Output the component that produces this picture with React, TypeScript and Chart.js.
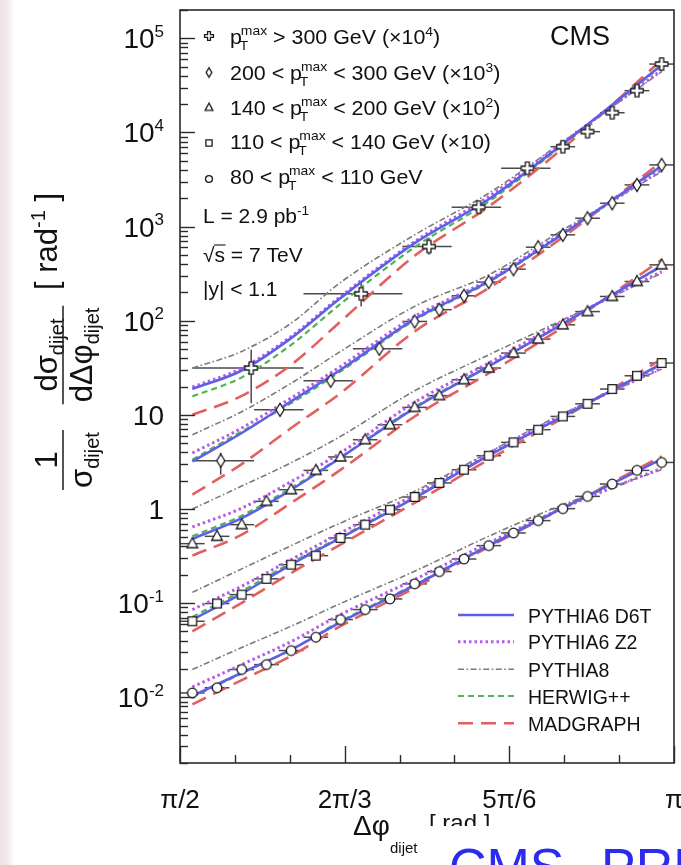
import React, { useEffect, useRef } from "react";
import { Chart, registerables } from "chart.js";

Chart.register(...registerables);

const PI = Math.PI;
const Y_MIN = 0.002;
const Y_MAX = 200000;

// ---- Δφ binning (rad) ----
const FINE_X = [1.6101, 1.6886, 1.7671, 1.8457, 1.9242, 2.0028, 2.0813, 2.1598, 2.2384, 2.3169, 2.3955, 2.474, 2.5525, 2.6311, 2.7096, 2.7882, 2.8667, 2.9452, 3.0238, 3.1023];
const FINE_LO = [1.5708, 1.6493, 1.7279, 1.8064, 1.885, 1.9635, 2.042, 2.1206, 2.1991, 2.2777, 2.3562, 2.4347, 2.5133, 2.5918, 2.6704, 2.7489, 2.8274, 2.906, 2.9845, 3.0631];
const FINE_HI = [1.6493, 1.7279, 1.8064, 1.885, 1.9635, 2.042, 2.1206, 2.1991, 2.2777, 2.3562, 2.4347, 2.5133, 2.5918, 2.6704, 2.7489, 2.8274, 2.906, 2.9845, 3.0631, 3.1416];

// ---- measured data ----
const CIRCLE_Y = [0.0111, 0.0126, 0.0197, 0.0222, 0.0313, 0.0434, 0.0668, 0.0853, 0.1107, 0.16, 0.216, 0.294, 0.408, 0.556, 0.752, 1.007, 1.36, 1.84, 2.57, 3.12];
const SQUARE_Y = [0.0641, 0.0989, 0.123, 0.181, 0.256, 0.319, 0.492, 0.681, 0.982, 1.34, 1.89, 2.61, 3.68, 5.1, 6.95, 9.62, 13.1, 18.8, 26.0, 35.5];
const TRIANGLE_Y = [0.428, 0.512, 0.681, 1.205, 1.6, 2.57, 3.57, 5.44, 7.85, 12.0, 16.0, 23.6, 31.4, 45.3, 63.8, 90.4, 125, 181, 261, 392];

const DIAMOND_X = [1.7002, 1.8888, 2.0499, 2.2046, 2.3169, 2.3955, 2.474, 2.5525, 2.6311, 2.7096, 2.7882, 2.8667, 2.9452, 3.0238, 3.1023];
const DIAMOND_LO = [1.6101, 1.8064, 1.9635, 2.1206, 2.2777, 2.3562, 2.4347, 2.5133, 2.5918, 2.6704, 2.7489, 2.8274, 2.906, 2.9845, 3.0631];
const DIAMOND_HI = [1.8064, 1.9635, 2.1206, 2.2777, 2.3562, 2.4347, 2.5133, 2.5918, 2.6704, 2.7489, 2.8274, 2.906, 2.9845, 3.0631, 3.1416];
const DIAMOND_Y = [3.26, 11.3, 23.0, 50.3, 98.2, 131, 184, 257, 353, 604, 817, 1227, 1772, 2773, 4520];
const DIAMOND_YLO = [2.31, 9.8, 23.0, 50.3, 98.2, 131, 184, 257, 353, 604, 817, 1227, 1772, 2773, 4520];
const DIAMOND_YHI = [3.95, 12.9, 23.0, 50.3, 98.2, 131, 184, 257, 353, 604, 817, 1227, 1772, 2773, 4520];

const CROSS_X = [1.7972, 2.1468, 2.3625, 2.5204, 2.6752, 2.7882, 2.8667, 2.9452, 3.0238, 3.1023];
const CROSS_LO = [1.6101, 1.9635, 2.2777, 2.4347, 2.5918, 2.7489, 2.8274, 2.906, 2.9845, 3.0631];
const CROSS_HI = [1.9635, 2.2777, 2.4347, 2.5918, 2.7489, 2.8274, 2.906, 2.9845, 3.0631, 3.1416];
const CROSS_Y = [31.4, 193, 614, 1608, 4170, 7060, 10200, 16200, 27800, 53300];
const CROSS_YLO = [13.3, 141.6, 501, 1480, 3950, 7060, 10200, 16200, 27800, 53300];
const CROSS_YHI = [49.1, 252, 759, 1750, 4400, 7060, 10200, 16200, 27800, 53300];

// ---- model curves (sampled at MODEL_X) ----
const MODEL_X = [1.6101, 1.7671, 1.9242, 2.0813, 2.3169, 2.5525, 2.7882, 3.1023];

const D6T_80 = [0.0103, 0.0182, 0.032, 0.0626, 0.154, 0.408, 1.02, 3.39];
const Z2_80 = [0.0129, 0.0222, 0.039, 0.0755, 0.178, 0.436, 1.02, 2.72];
const P8_80 = [0.0197, 0.0337, 0.0568, 0.0989, 0.218, 0.513, 1.11, 2.61];
const HW_80 = [0.0101, 0.0179, 0.032, 0.0641, 0.157, 0.415, 1.04, 3.39];
const MG_80 = [0.0084, 0.0152, 0.0275, 0.0568, 0.145, 0.395, 1.02, 3.62];

const D6T_110 = [0.0668, 0.126, 0.256, 0.492, 1.31, 3.68, 9.62, 34.9];
const Z2_110 = [0.0853, 0.151, 0.29, 0.556, 1.42, 3.9, 10.0, 31.4];
const P8_110 = [0.13, 0.231, 0.408, 0.71, 1.54, 4.0, 10.3, 30.6];
const HW_110 = [0.0713, 0.134, 0.267, 0.504, 1.34, 3.74, 9.62, 34.1];
const MG_110 = [0.0502, 0.1005, 0.209, 0.418, 1.16, 3.34, 9.24, 39.1];

const D6T_140 = [0.48, 0.8, 1.6, 3.5, 11.8, 32.7, 92.7, 383];
const Z2_140 = [0.644, 1.02, 1.95, 3.95, 13.6, 35.5, 98.2, 333];
const P8_140 = [1.0, 1.75, 3.1, 5.9, 18.0, 43.4, 102, 320];
const HW_140 = [0.513, 0.849, 1.67, 3.55, 12.1, 33.2, 92.7, 377];
const MG_140 = [0.319, 0.533, 1.16, 2.6, 9.6, 27.7, 85.5, 443];

const D6T_200 = [3.2, 6.41, 13.9, 30.1, 104, 261, 837, 4408];
const Z2_200 = [3.93, 7.24, 15.1, 32.7, 111, 272, 865, 4000];
const P8_200 = [6.15, 10.8, 21.7, 47.2, 142, 307, 922, 3837];
const HW_200 = [3.34, 6.67, 13.3, 28.9, 101, 257, 830, 4339];
const MG_200 = [1.42, 3.0, 7.24, 17.0, 76.9, 222, 771, 4898];

const D6T_300 = [18.8, 29.6, 65.3, 174, 666, 1952, 7551, 52080];
const Z2_300 = [19.7, 31.4, 68.0, 181, 693, 2084, 7793, 46080];
const P8_300 = [31.4, 47.2, 94.2, 255, 816, 2261, 7985, 44200];
const HW_300 = [15.7, 25.0, 55.5, 151, 604, 1844, 7369, 51190];
const MG_300 = [10.0, 15.9, 34.0, 98.1, 489, 1632, 6797, 58840];

// ---- axis ticks ----
const Y_TICK_EXP = [-2, -1, 0, 1, 2, 3, 4, 5];
const X_MAJOR = [PI / 2, (2 * PI) / 3, (5 * PI) / 6, PI];
const X_MAJOR_LABELS = ["π/2", "2π/3", "5π/6", "π"];
const X_MINOR = [1.7453, 1.9199, 2.2689, 2.4435, 2.7925, 2.9671];

const MODEL_NAMES = ["PYTHIA6 D6T", "PYTHIA6 Z2", "PYTHIA8", "HERWIG++", "MADGRAPH"];
const MODEL_STYLE = [
  { color: "#5f5fe8", width: 2.6, dash: [] as number[] },
  { color: "#b65ae8", width: 3, dash: [2.5, 3] },
  { color: "#7a7a7a", width: 1.6, dash: [6, 2.5, 1.6, 2.5] },
  { color: "#4fb552", width: 2.2, dash: [6, 4] },
  { color: "#e2605e", width: 2.6, dash: [15, 8] },
];

const FONT = '"Liberation Sans", Arial, Helvetica, sans-serif';
const setFont = (ctx: any, size: number, bold = false) => {
  ctx.font = `${bold ? "bold " : ""}${size}px ${FONT}`;
};

function runsWidth(ctx: any, runs: any[]) {
  let w = 0;
  for (const r of runs) {
    if (r.stack) {
      let m = 0;
      for (const s of r.stack) {
        setFont(ctx, s.size);
        m = Math.max(m, ctx.measureText(s.t).width + (s.dx || 0));
      }
      w += m;
    } else {
      setFont(ctx, r.size);
      w += ctx.measureText(r.t).width + (r.dx || 0);
    }
  }
  return w;
}

function drawRuns(ctx: any, runs: any[], x: number, y: number) {
  let cx = x;
  for (const r of runs) {
    if (r.stack) {
      let m = 0;
      for (const s of r.stack) {
        setFont(ctx, s.size);
        ctx.fillText(s.t, cx + (s.dx || 0), y + (s.dy || 0));
        m = Math.max(m, ctx.measureText(s.t).width + (s.dx || 0));
      }
      cx += m;
    } else {
      setFont(ctx, r.size);
      ctx.fillText(r.t, cx + (r.dx || 0), y + (r.dy || 0));
      cx += ctx.measureText(r.t).width + (r.dx || 0);
    }
  }
  return cx;
}

function makeMarker(kind: string, scale: number) {
  const S = Math.round(20 * scale);
  const c = document.createElement("canvas");
  c.width = S;
  c.height = S;
  const g = c.getContext("2d") as CanvasRenderingContext2D;
  g.translate(S / 2, S / 2);
  g.scale(scale, scale);
  g.beginPath();
  if (kind === "circle") g.arc(0, 0, 4.8, 0, 2 * PI);
  else if (kind === "square") g.rect(-4.3, -4.3, 8.6, 8.6);
  else if (kind === "triangle") {
    g.moveTo(0, -6);
    g.lineTo(5.4, 4);
    g.lineTo(-5.4, 4);
    g.closePath();
  } else if (kind === "diamond") {
    g.moveTo(0, -6.5);
    g.lineTo(4, 0);
    g.lineTo(0, 6.5);
    g.lineTo(-4, 0);
    g.closePath();
  } else {
    const a = 2,
      L = 6.2;
    const pts = [[-a, -L], [a, -L], [a, -a], [L, -a], [L, a], [a, a], [a, L], [-a, L], [-a, a], [-L, a], [-L, -a], [-a, -a]];
    g.moveTo(pts[0][0], pts[0][1]);
    for (const p of pts.slice(1)) g.lineTo(p[0], p[1]);
    g.closePath();
  }
  g.fillStyle = "#ffffff";
  g.fill();
  g.lineWidth = 1.3 / scale;
  g.strokeStyle = "#1a1a1a";
  g.stroke();
  return c;
}

export default function App() {
  const ref = useRef<HTMLCanvasElement>(null);

  useEffect(() => {
    const canvas = ref.current as HTMLCanvasElement;
    const kinds = ["cross", "diamond", "triangle", "square", "circle"];
    const mk: any = {};
    const mkSmall: any = {};
    for (const k of kinds) {
      mk[k] = makeMarker(k, 1);
      mkSmall[k] = makeMarker(k, 0.72);
    }

    const series = [
      { kind: "cross", x: CROSS_X, y: CROSS_Y, lo: CROSS_LO, hi: CROSS_HI, ylo: CROSS_YLO, yhi: CROSS_YHI, models: [D6T_300, Z2_300, P8_300, HW_300, MG_300] },
      { kind: "diamond", x: DIAMOND_X, y: DIAMOND_Y, lo: DIAMOND_LO, hi: DIAMOND_HI, ylo: DIAMOND_YLO, yhi: DIAMOND_YHI, models: [D6T_200, Z2_200, P8_200, HW_200, MG_200] },
      { kind: "triangle", x: FINE_X, y: TRIANGLE_Y, lo: FINE_LO, hi: FINE_HI, ylo: TRIANGLE_Y, yhi: TRIANGLE_Y, models: [D6T_140, Z2_140, P8_140, HW_140, MG_140] },
      { kind: "square", x: FINE_X, y: SQUARE_Y, lo: FINE_LO, hi: FINE_HI, ylo: SQUARE_Y, yhi: SQUARE_Y, models: [D6T_110, Z2_110, P8_110, HW_110, MG_110] },
      { kind: "circle", x: FINE_X, y: CIRCLE_Y, lo: FINE_LO, hi: FINE_HI, ylo: CIRCLE_Y, yhi: CIRCLE_Y, models: [D6T_80, Z2_80, P8_80, HW_80, MG_80] },
    ];

    const datasets: any[] = [];
    for (const s of series) {
      datasets.push({
        type: "scatter",
        data: s.x.map((x, i) => ({ x, y: s.y[i] })),
        pointStyle: mk[s.kind],
        pointRadius: 6,
        order: 0,
      });
      for (const m of [4, 3, 2, 1, 0]) {
        const st = MODEL_STYLE[m];
        datasets.push({
          type: "line",
          data: MODEL_X.map((x, i) => ({ x, y: s.models[m][i] })),
          borderColor: st.color,
          borderWidth: st.width,
          borderDash: st.dash,
          pointRadius: 0,
          fill: false,
          cubicInterpolationMode: "monotone",
          order: 1 + m * 0.01,
        });
      }
    }

    const bgPlugin = {
      id: "bg",
      beforeDraw(chart: any) {
        const ctx = chart.ctx;
        ctx.save();
        ctx.fillStyle = "#ffffff";
        ctx.fillRect(0, 0, chart.width, chart.height);
        const g = ctx.createLinearGradient(0, 0, 14, 0);
        g.addColorStop(0, "#eee2e5");
        g.addColorStop(0.7, "#f6eef0");
        g.addColorStop(1, "#ffffff");
        ctx.fillStyle = g;
        ctx.fillRect(0, 0, 14, chart.height);
        ctx.restore();
      },
    };

    const errPlugin = {
      id: "errbars",
      beforeDatasetsDraw(chart: any) {
        const ctx = chart.ctx;
        const a = chart.chartArea;
        const xs = chart.scales.x;
        const ys = chart.scales.y;
        ctx.save();
        ctx.beginPath();
        ctx.rect(a.left, a.top, a.right - a.left, a.bottom - a.top);
        ctx.clip();
        ctx.strokeStyle = "#4a4a4a";
        ctx.lineWidth = 1.5;
        for (const s of series) {
          for (let i = 0; i < s.x.length; i++) {
            const py = ys.getPixelForValue(s.y[i]);
            ctx.beginPath();
            ctx.moveTo(xs.getPixelForValue(s.lo[i]), py);
            ctx.lineTo(xs.getPixelForValue(s.hi[i]), py);
            ctx.stroke();
            if (s.yhi[i] > s.ylo[i]) {
              const px = xs.getPixelForValue(s.x[i]);
              ctx.beginPath();
              ctx.moveTo(px, ys.getPixelForValue(s.ylo[i]));
              ctx.lineTo(px, ys.getPixelForValue(s.yhi[i]));
              ctx.stroke();
            }
          }
        }
        ctx.restore();
      },
    };

    const decoPlugin = {
      id: "deco",
      afterDraw(chart: any) {
        const ctx = chart.ctx;
        const a = chart.chartArea;
        const xs = chart.scales.x;
        const ys = chart.scales.y;
        ctx.save();
        // frame
        ctx.strokeStyle = "#2a2a2a";
        ctx.lineWidth = 1.6;
        ctx.strokeRect(a.left, a.top, a.right - a.left, a.bottom - a.top);
        // y ticks
        ctx.lineWidth = 1.4;
        for (let e = -3; e <= 5; e++) {
          for (let m = 1; m <= 9; m++) {
            const v = m * Math.pow(10, e);
            if (v < Y_MIN * 0.999 || v > Y_MAX * 1.001) continue;
            const py = Math.round(ys.getPixelForValue(v)) + 0.5;
            const len = m === 1 ? 15 : 8;
            ctx.beginPath();
            ctx.moveTo(a.left, py);
            ctx.lineTo(a.left + len, py);
            ctx.stroke();
          }
        }
        // x ticks
        for (const v of X_MAJOR) {
          const px = Math.round(xs.getPixelForValue(v)) + 0.5;
          ctx.beginPath();
          ctx.moveTo(px, a.bottom);
          ctx.lineTo(px, a.bottom - 17);
          ctx.stroke();
        }
        for (const v of X_MINOR) {
          const px = Math.round(xs.getPixelForValue(v)) + 0.5;
          ctx.beginPath();
          ctx.moveTo(px, a.bottom);
          ctx.lineTo(px, a.bottom - 8);
          ctx.stroke();
        }

        ctx.fillStyle = "#111111";
        ctx.textBaseline = "alphabetic";
        // y tick labels
        for (const e of Y_TICK_EXP) {
          const py = ys.getPixelForValue(Math.pow(10, e));
          let runs: any[];
          if (e === 0) runs = [{ t: "1", size: 28 }];
          else if (e === 1) runs = [{ t: "10", size: 28 }];
          else runs = [{ t: "10", size: 28 }, { t: String(e), size: 17, dy: -11.5 }];
          const w = runsWidth(ctx, runs);
          drawRuns(ctx, runs, 164 - w, py + 10);
        }
        // x tick labels
        ctx.textAlign = "center";
        setFont(ctx, 26);
        X_MAJOR.forEach((v, i) => {
          ctx.fillText(X_MAJOR_LABELS[i], xs.getPixelForValue(v), 808);
        });
        ctx.textAlign = "left";

        // x title
        drawRuns(ctx, [{ t: "Δφ", size: 28 }], 353, 835);
        drawRuns(ctx, [{ t: "dijet", size: 15 }], 390, 853);
        drawRuns(ctx, [{ t: "[ rad ]", size: 24 }], 429, 831);

        // y title (rotated)
        ctx.save();
        ctx.translate(63, 0);
        ctx.rotate(-PI / 2);
        const F = 31;
        const FS = 20;
        const frac = (num: any[], den: any[], center: number) => {
          const wn = runsWidth(ctx, num);
          const wd = runsWidth(ctx, den);
          const w = Math.max(wn, wd) + 4;
          drawRuns(ctx, num, -center - wn / 2, -6);
          drawRuns(ctx, den, -center - wd / 2, 29);
          ctx.lineWidth = 1.6;
          ctx.beginPath();
          ctx.moveTo(-center - w / 2, 0);
          ctx.lineTo(-center + w / 2, 0);
          ctx.stroke();
        };
        frac([{ t: "1", size: F }], [{ t: "σ", size: F }, { t: "dijet", size: FS, dy: 7 }], 460);
        frac(
          [{ t: "dσ", size: F }, { t: "dijet", size: FS, dy: 7 }],
          [{ t: "dΔφ", size: F }, { t: "dijet", size: FS, dy: 7 }],
          355
        );
        drawRuns(ctx, [{ t: "[ rad", size: F }, { t: "-1", size: FS, dy: -12 }, { t: " ]", size: F }], -290, -6);
        ctx.restore();

        // top-left legend
        const LEG_MARK_Y = [36, 72.5, 107.5, 143, 179];
        const LEG_BASE = [44, 80, 115, 149, 184];
        const F2 = 20;
        const FP = 13;
        const pT = [{ t: "p", size: F2 }, { stack: [{ t: "max", size: FP, dy: -9, dx: -1 }, { t: "T", size: FP, dy: 6, dx: -2 }] }];
        const legRows: any[][] = [
          [...pT, { t: " > 300 GeV (×10", size: F2 }, { t: "4", size: FP, dy: -8 }, { t: ")", size: F2 }],
          [{ t: "200 < ", size: F2 }, ...pT, { t: " < 300 GeV (×10", size: F2 }, { t: "3", size: FP, dy: -8 }, { t: ")", size: F2 }],
          [{ t: "140 < ", size: F2 }, ...pT, { t: " < 200 GeV (×10", size: F2 }, { t: "2", size: FP, dy: -8 }, { t: ")", size: F2 }],
          [{ t: "110 < ", size: F2 }, ...pT, { t: " < 140 GeV (×10)", size: F2 }],
          [{ t: "80 < ", size: F2 }, ...pT, { t: " < 110 GeV", size: F2 }],
        ];
        kinds.forEach((k, i) => {
          const im = mkSmall[k];
          ctx.drawImage(im, 209 - im.width / 2, LEG_MARK_Y[i] - im.height / 2);
          ctx.save();
          ctx.translate(230, 0);
          ctx.scale(1.07, 1);
          drawRuns(ctx, legRows[i], 0, LEG_BASE[i]);
          ctx.restore();
        });
        ctx.save();
        ctx.translate(203, 0);
        ctx.scale(1.05, 1);
        drawRuns(ctx, [{ t: "L = 2.9 pb", size: F2 }, { t: "-1", size: FP, dy: -8 }], 0, 223);
        const sx = drawRuns(ctx, [{ t: "√", size: F2 }], 0, 261.5);
        const ex = drawRuns(ctx, [{ t: "s", size: F2 }], sx, 261.5);
        ctx.lineWidth = 1.2;
        ctx.beginPath();
        ctx.moveTo(sx - 0.5, 245);
        ctx.lineTo(ex + 0.5, 245);
        ctx.stroke();
        drawRuns(ctx, [{ t: " = 7 TeV", size: F2 }], ex, 261.5);
        drawRuns(ctx, [{ t: "|y| < 1.1", size: F2 }], 0, 296);
        ctx.restore();

        // CMS
        setFont(ctx, 27);
        ctx.fillText("CMS", 550, 45);

        // model legend
        const LM_Y = [615, 641.7, 669.3, 696, 723.3];
        MODEL_NAMES.forEach((name, i) => {
          const st = MODEL_STYLE[i];
          ctx.save();
          ctx.strokeStyle = st.color;
          ctx.lineWidth = st.width;
          ctx.setLineDash(st.dash);
          ctx.beginPath();
          ctx.moveTo(458, LM_Y[i]);
          ctx.lineTo(514, LM_Y[i]);
          ctx.stroke();
          ctx.restore();
          drawRuns(ctx, [{ t: name, size: 19.5 }], 528, LM_Y[i] + 7.5);
        });

        // slide overlay at the bottom
        ctx.fillStyle = "#ffffff";
        ctx.fillRect(425, 826, 256, 39);
        ctx.fillStyle = "#2b2bf0";
        setFont(ctx, 52);
        ctx.fillText("CMS", 449, 885);
        ctx.fillText("PRL", 601, 885);
        ctx.restore();
      },
    };

    const chart = new Chart(canvas, {
      type: "scatter",
      data: { datasets },
      options: {
        animation: false,
        responsive: false,
        devicePixelRatio: 1,
        layout: { padding: { left: 180, right: 4, top: 10, bottom: 102 } },
        scales: {
          x: { type: "linear", min: PI / 2, max: PI, display: false },
          y: { type: "logarithmic", min: Y_MIN, max: Y_MAX, display: false },
        },
        plugins: { legend: { display: false }, tooltip: { enabled: false } },
      } as any,
      plugins: [bgPlugin, errPlugin, decoPlugin],
    } as any);
    return () => chart.destroy();
  }, []);

  return (
    <div style={{ position: "fixed", left: 0, top: 0, width: 681, height: 865, background: "#ffffff" }}>
      <canvas ref={ref} width={681} height={865} style={{ display: "block", width: 681, height: 865 }} />
    </div>
  );
}
